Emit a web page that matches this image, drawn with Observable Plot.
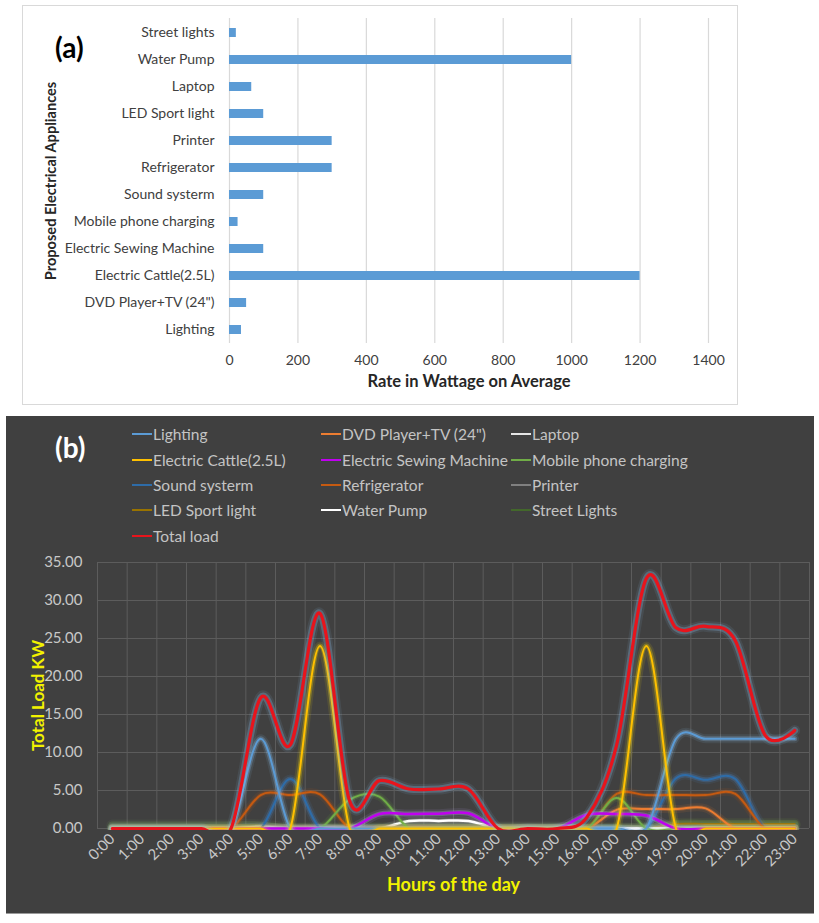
<!DOCTYPE html>
<html>
<head>
<meta charset="utf-8">
<script src="https://cdn.jsdelivr.net/npm/d3@7"></script>
<script src="https://cdn.jsdelivr.net/npm/@observablehq/plot@0.6"></script>
<style>
  body { margin: 0; background: #fff; font-family: Lato, "Open Sans", sans-serif; }
  #page { position: relative; width: 819px; height: 923px; overflow: hidden; }
  .abs { position: absolute; }
  #frameA { left: 22px; top: 5px; width: 716px; height: 400px; border: 1px solid #d9d9d9; box-sizing: border-box; }
  #chartA { left: 22px; top: 5px; }
  #panelB { left: 6px; top: 416px; width: 808px; height: 497px; background: #404040; border-bottom: 1px solid #9a9a9a; }
  #chartB { left: 6px; top: 545px; }
  #curvesB { left: 6px; top: 545px; overflow: hidden; }
  .tag { font-weight: bold; font-size: 28px; line-height: 28px; }
  #legendB .item { position: absolute; display: flex; align-items: center; font-size: 15.5px; color: #c4c4c4; white-space: nowrap; height: 20px; }
  #legendB .sw { display: inline-block; width: 20px; height: 2px; margin-right: 1px; }
</style>
</head>
<body>
<div id="page">
  <div id="frameA" class="abs"></div>
  <div id="chartA" class="abs"></div>
  <div class="abs tag" style="left:55px;top:33px;color:#000">(a)</div>
  <div id="panelB" class="abs"></div>
  <div id="legendB" class="abs" style="left:0;top:0"></div>
  <div id="chartB" class="abs"></div>
  <div id="curvesB" class="abs"></div>
  <div class="abs tag" style="left:55px;top:433px;color:#fff">(b)</div>
</div>
<script>
// ---- (a) rated wattage per appliance ----
const appliances = [
  "Street lights", "Water Pump", "Laptop", "LED Sport light", "Printer", "Refrigerator",
  "Sound systerm", "Mobile phone charging", "Electric Sewing Machine",
  "Electric Cattle(2.5L)", "DVD Player+TV (24\")", "Lighting"
];
const wattage = [20, 1000, 65, 100, 300, 300, 100, 25, 100, 1200, 50, 35];
const wattTicks = [0, 200, 400, 600, 800, 1000, 1200, 1400];

// ---- (b) hourly load profile (kW) ----
const hours = ["0:00","1:00","2:00","3:00","4:00","5:00","6:00","7:00","8:00","9:00","10:00","11:00",
               "12:00","13:00","14:00","15:00","16:00","17:00","18:00","19:00","20:00","21:00","22:00","23:00"];
const loadTicks = [0, 5, 10, 15, 20, 25, 30, 35];
//                      0    1    2    3    4    5     6    7     8    9    10   11   12   13  14  15   16   17    18    19    20    21    22    23
const lighting      = [0,   0,   0,   0,   0,   11.8, 0,   0,    0,   0,   0,   0,   0,   0,  0,  0,   0,   0,    0,    11.8, 11.8, 11.8, 11.8, 11.8];
const dvdTv         = [0,   0,   0,   0,   0,   0,    0,   0,    0,   0,   0,   0,   0,   0,  0,  0,   0,   2.45, 2.55, 2.55, 2.65, 0,    0,    0];
const laptop        = [0,   0,   0,   0,   0,   0.25, 0,   0,    0,   0,   0,   0,   0,   0,  0,  0,   0,   0,    0,    0.08, 0.08, 0.08, 0.08, 0.08];
const kettle        = [0,   0,   0,   0,   0,   0,    0,   24,   0,   0,   0,   0,   0,   0,  0,  0,   0,   0,    24,   0,    0,    0,    0,    0];
const sewing        = [0,   0,   0,   0,   0,   0,    0,   0,    0,   1.9, 1.9, 1.95,2.0, 0,  0,  0,   1.8, 1.9,  1.7,  0,    0,    0,    0,    0];
const phoneCharging = [0,   0,   0,   0,   0,   0,    0,   0,    3.8, 4.2, 0,   0,   0,   0,  0,  0,   0,   4.0,  0,    0,    0,    0,    0,    0];
const soundSystem   = [0,   0,   0,   0,   0,   0,    6.5, 0,    0,   0,   0,   0,   0,   0,  0,  0,   0,   0,    0,    6.6,  6.4,  6.5,  0,    0];
const refrigerator  = [0,   0,   0,   0,   0,   4.4,  4.4, 4.5,  0,   0,   0,   0,   0,   0,  0,  0,   0,   4.55, 4.4,  4.4,  4.4,  4.55, 0,    0];
const printer       = [0,   0,   0,   0,   0,   0,    0,   0,    0,   0,   0.3, 0.3, 0.3, 0.2,0.2,0.2, 0,   0,    0,    0,    0,    0,    0,    0];
const ledSport      = [0,   0,   0,   0,   0,   0,    0,   0,    0,   0,   0,   0,   0,   0,  0,  0,   0,   0,    0,    0.6,  0.6,  0.6,  0.6,  0.6];
const waterPump     = [0,   0,   0,   0,   0,   0,    0,   0,    0,   0,   1.0, 1.0, 1.0, 0,  0,  0,   0,   0,    0,    0,    0,    0,    0,    0];
const streetLights  = [0.4, 0.4, 0.4, 0.4, 0.4, 0.4,  0,   0,    0,   0,   0,   0,   0,   0,  0,  0,   0,   0,    0,    0.4,  0.4,  0.4,  0.4,  0.4];
const totalLoad     = [0,   0,   0,   0,   0,   17.2, 11.0,28.3, 3.6, 6.3, 5.2, 5.2, 5.2, 0,  0,  0,   1.5, 11.0, 32.9, 26.4, 26.6, 24.7, 12.3, 12.9];

// series names, drawing styles and legend order
const seriesB = [
  {name: "Lighting",                values: lighting,      color: "#5b9bd5", width: 2,   glow: "#8cc0ee", glowW: 5},
  {name: "DVD Player+TV (24\")",    values: dvdTv,         color: "#ed7d31", width: 2,   glow: "#ed7d31", glowW: 4},
  {name: "Laptop",                  values: laptop,        color: "#e6e6e6", width: 2,   glow: "#d0d0d0", glowW: 4},
  {name: "Electric Cattle(2.5L)",   values: kettle,        color: "#ffc000", width: 2,   glow: "#ffe000", glowW: 5},
  {name: "Electric Sewing Machine", values: sewing,        color: "#c000f0", width: 2.5, glow: "#c8a8ff", glowW: 5},
  {name: "Mobile phone charging",   values: phoneCharging, color: "#70ad47", width: 2,   glow: "#70ad47", glowW: 4},
  {name: "Sound systerm",           values: soundSystem,   color: "#2e6ca8", width: 2,   glow: "#4a86c8", glowW: 5},
  {name: "Refrigerator",            values: refrigerator,  color: "#c55a11", width: 2,   glow: "#c55a11", glowW: 4},
  {name: "Printer",                 values: printer,       color: "#808080", width: 2,   glow: "#96a08c", glowW: 7},
  {name: "LED Sport light",         values: ledSport,      color: "#997300", width: 2,   glow: "#6e963c", glowW: 8},
  {name: "Water Pump",              values: waterPump,     color: "#ffffff", width: 2.5, glow: "#cfcfcf", glowW: 4},
  {name: "Street Lights",           values: streetLights,  color: "#43682b", width: 2,   glow: "#7aa064", glowW: 8},
  {name: "Total load",              values: totalLoad,     color: "#e8141c", width: 3.2, glow: "#8cb9e6", glowW: 7}
];
const drawOrder = ["Street Lights", "LED Sport light", "Printer", "Laptop", "Water Pump", "Sound systerm",
  "Refrigerator", "DVD Player+TV (24\")", "Mobile phone charging", "Electric Sewing Machine",
  "Lighting", "Electric Cattle(2.5L)", "Total load"];

// ---------- chart (a) ----------
const barRows = appliances.map((name, i) => ({name, watts: wattage[i]}));
const chartA = Plot.plot({
  width: 715, height: 399,
  marginLeft: 207, marginRight: 29, marginTop: 13, marginBottom: 61,
  style: {fontFamily: "Lato, 'Open Sans', sans-serif", fontSize: "14px", color: "#404040", background: "transparent"},
  x: {domain: [0, 1400], ticks: wattTicks, tickFormat: d3.format("d"), tickSize: 0, tickPadding: 12, label: null},
  y: {domain: appliances, paddingInner: 0.67, paddingOuter: 0.335, tickSize: 0, tickPadding: 15, label: null},
  marks: [
    Plot.ruleX(wattTicks, {stroke: "#d9d9d9", strokeWidth: 1.2}),
    Plot.barX(barRows, {x: "watts", y: "name", fill: "#5b9bd5"}),
    Plot.text(["Rate in Wattage on Average"], {text: d => d, frameAnchor: "bottom", dy: 43,
      fontWeight: "bold", fontSize: 16.5, fill: "#262626"}),
    Plot.text(["Proposed Electrical Appliances"], {text: d => d, frameAnchor: "left", textAnchor: "middle",
      dx: -178, rotate: -90, fontWeight: "bold", fontSize: 14.6, fill: "#262626"})
  ]
});
document.getElementById("chartA").append(chartA);

// ---------- chart (b) ----------
const hourIdx = d3.range(hours.length);
const W = 808, H = 368, ML = 91, MR = 5, MT = 17, MB = 85;
const frameB = {
  width: W, height: H, marginLeft: ML, marginRight: MR, marginTop: MT, marginBottom: MB
};
const xB = {domain: [-0.5, 23.5]};
const yB = {domain: [0, 35]};

// grid, axes and titles
const chartB = Plot.plot({
  ...frameB,
  style: {fontFamily: "Lato, 'Open Sans', sans-serif", fontSize: "15px", color: "#c8c8c8", background: "#404040"},
  x: {...xB, ticks: hourIdx, tickFormat: i => hours[i], tickRotate: -45, tickSize: 0, tickPadding: 8, label: null},
  y: {...yB, ticks: loadTicks, tickFormat: d3.format(".2f"), tickSize: 0, tickPadding: 15, label: null},
  marks: [
    Plot.ruleX(d3.range(-0.5, 24, 1), {stroke: "#5c5c5c", strokeWidth: 1}),
    Plot.ruleY(loadTicks, {stroke: "#5c5c5c", strokeWidth: 1}),
    Plot.text(["Total Load KW"], {text: d => d, frameAnchor: "left", textAnchor: "middle",
      dx: -59, rotate: -90, fontWeight: "bold", fontSize: 17, fill: "#f2f200"}),
    Plot.text(["Hours of the day"], {text: d => d, frameAnchor: "bottom", dy: 62,
      fontWeight: "bold", fontSize: 18, fill: "#f2f200"})
  ]
});
document.getElementById("chartB").append(chartB);

// smoothed curves with a soft halo, on a layer cropped just below the zero line
const curveMarks = [];
drawOrder.forEach(name => {
  const s = seriesB.find(d => d.name === name);
  const acc = {x: i => i, y: i => s.values[i], curve: "cardinal"};
  curveMarks.push(
    Plot.line(hourIdx, {...acc, stroke: s.glow, strokeWidth: s.glowW + 4, strokeOpacity: 0.1}),
    Plot.line(hourIdx, {...acc, stroke: s.glow, strokeWidth: s.glowW, strokeOpacity: 0.28}),
    Plot.line(hourIdx, {...acc, stroke: s.color, strokeWidth: s.width})
  );
});
const curvesB = Plot.plot({
  ...frameB,
  style: {background: "transparent"},
  x: {...xB, axis: null},
  y: {...yB, axis: null},
  marks: curveMarks
});
const curveBox = document.getElementById("curvesB");
curveBox.style.width = W + "px";
curveBox.style.height = (H - MB + 2) + "px";
curveBox.append(curvesB);

// legend (3 columns)
const legend = d3.select("#legendB");
const colX = [132, 321, 511];
const rowY = [434, 459.5, 485, 510.3, 535.5];
seriesB.forEach((s, i) => {
  const item = legend.append("div").attr("class", "item")
    .style("left", colX[i % 3] + "px")
    .style("top", (rowY[Math.floor(i / 3)] - 10) + "px");
  item.append("span").attr("class", "sw").style("background", s.color);
  item.append("span").text(s.name);
});
</script>
</body>
</html>
